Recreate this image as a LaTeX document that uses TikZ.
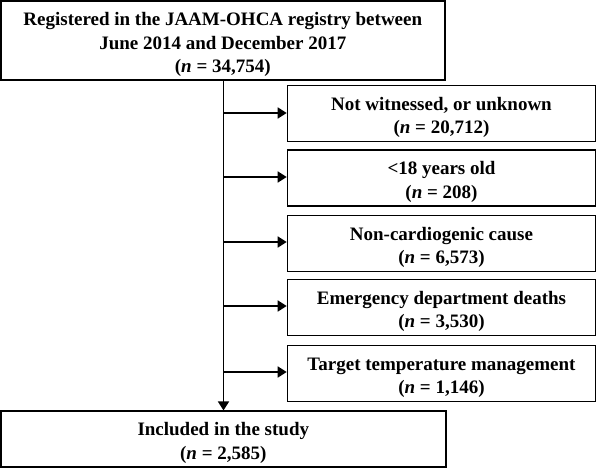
\documentclass[tikz,border=0pt]{standalone}
\usepackage{fontspec}
\setmainfont{Liberation Serif}
\usetikzlibrary{arrows.meta}
\newcommand{\topstrut}{\rule{0pt}{21.5pt}}
\begin{document}
\begin{tikzpicture}[x=1pt,y=-1pt,
  box/.style={draw=black, line width=1.6pt, inner sep=0pt, align=center,
    font=\fontsize{19}{23.5}\selectfont\bfseries},
  conn/.style={line width=1.6pt, -{Triangle[length=9pt,width=11pt]}}]
\useasboundingbox (0,0) rectangle (597,468);
\node[box, minimum width=444pt, minimum height=79pt] (top) at (222.8,40.3) {\topstrut Registered in the JAAM-OHCA registry between\\June 2014 and December 2017\\(\textit{n} = 34,754)};
\node[box, minimum width=308pt, minimum height=56pt] (b1) at (441.5,113.5) {\topstrut Not witnessed, or unknown\\(\textit{n} = 20,712)};
\node[box, minimum width=308pt, minimum height=56pt] (b2) at (441.5,178) {\topstrut<18 years old\\(\textit{n} = 208)};
\node[box, minimum width=308pt, minimum height=56pt] (b3) at (441.5,243.5) {\topstrut Non-cardiogenic cause\\(\textit{n} = 6,573)};
\node[box, minimum width=308pt, minimum height=56pt] (b4) at (441.5,307.5) {\topstrut Emergency department deaths\\(\textit{n} = 3,530)};
\node[box, minimum width=308pt, minimum height=56pt] (b5) at (441.5,373.5) {\topstrut Target temperature management\\(\textit{n} = 1,146)};
\node[box, minimum width=445pt, minimum height=55.5pt] (bot) at (223.3,439) {\topstrut Included in the study\\(\textit{n} = 2,585)};
\coordinate (j1) at (223.5,113);
\coordinate (j2) at (223.5,177);
\coordinate (j3) at (223.5,242);
\coordinate (j4) at (223.5,306);
\coordinate (j5) at (223.5,372);
\draw[conn] (top.south -| j1) -- (bot.north -| j1);
\draw[conn] (j1) -- (j1 -| b1.west);
\draw[conn] (j2) -- (j2 -| b2.west);
\draw[conn] (j3) -- (j3 -| b3.west);
\draw[conn] (j4) -- (j4 -| b4.west);
\draw[conn] (j5) -- (j5 -| b5.west);
\end{tikzpicture}
\end{document}
